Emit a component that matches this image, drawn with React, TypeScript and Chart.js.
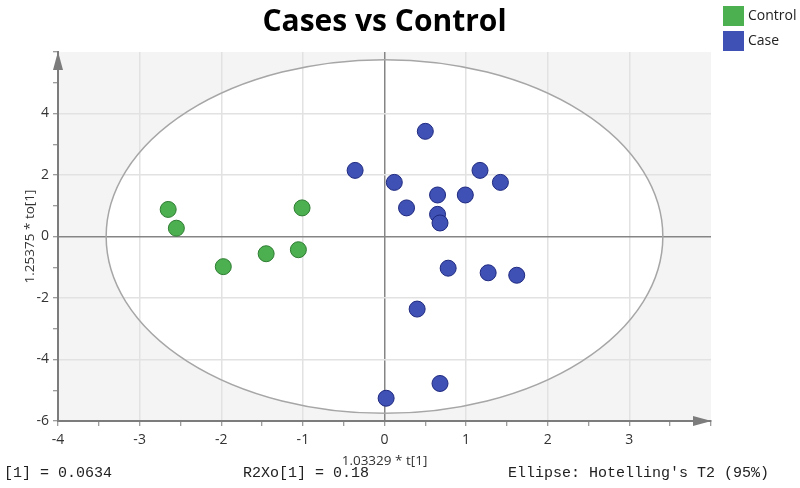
import React, { useEffect, useRef } from 'react';
import { Chart, registerables } from 'chart.js';

Chart.register(...registerables);

const TITLE = 'Cases vs Control';
const SERIES_NAMES = ['Control', 'Case'];
const SERIES_COLORS = ['#4caf50', '#3f51b5'];
const SERIES_BORDERS = ['#2f7d33', '#1f2a80'];

const CONTROL_X = [-2.65, -2.55, -1.01, -1.975, -1.45, -1.055];
const CONTROL_Y = [0.88, 0.27, 0.93, -0.98, -0.56, -0.43];

const CASE_X = [-0.36, 0.5, 0.12, 0.27, 0.65, 0.65, 0.68, 0.78, 0.99, 1.17, 1.42, 1.27, 1.62, 0.4, 0.68, 0.02];
const CASE_Y = [2.15, 3.42, 1.76, 0.93, 1.35, 0.72, 0.44, -1.03, 1.35, 2.15, 1.76, -1.18, -1.26, -2.36, -4.78, -5.26];

const X_MIN = -4;
const X_MAX = 4;
const Y_MIN = -6;
const Y_MAX = 6;
const X_LABELS = [-4, -3, -2, -1, 0, 1, 2, 3];
const Y_LABELS = [-6, -4, -2, 0, 2, 4];
const Y_GRID = [-4, -2, 2, 4];
const X_GRID = [-3, -2, -1, 1, 2, 3];

const ELLIPSE_RX = 3.41;
const ELLIPSE_RY = 5.75;

const X_TITLE = '1.03329 * t[1]';
const Y_TITLE = '1.25375 * to[1]';
const FOOTER_TEXTS = ['[1] = 0.0634', 'R2Xo[1] = 0.18', "Ellipse: Hotelling's T2 (95%)"];
const FOOTER_X = [4, 243, 508];

const FONT = '"Open Sans", "Noto Sans", sans-serif';
const AXIS_GREY = '#7c7c7c';

const decorPlugin = {
  id: 'decor',
  beforeDraw(chart: any) {
    const { ctx, chartArea } = chart;
    const { left, top, right, bottom } = chartArea;
    const xs = chart.scales.x;
    const ys = chart.scales.y;
    ctx.save();
    ctx.fillStyle = '#f4f4f4';
    ctx.fillRect(left, top, right - left, bottom - top);
    const cx = xs.getPixelForValue(0);
    const cy = ys.getPixelForValue(0);
    const rx = Math.abs(xs.getPixelForValue(ELLIPSE_RX) - cx);
    const ry = Math.abs(ys.getPixelForValue(ELLIPSE_RY) - cy);
    ctx.beginPath();
    ctx.ellipse(cx, cy, rx, ry, 0, 0, Math.PI * 2);
    ctx.fillStyle = '#ffffff';
    ctx.fill();
    ctx.restore();
  },
  beforeDatasetsDraw(chart: any) {
    const { ctx } = chart;
    const xs = chart.scales.x;
    const ys = chart.scales.y;
    const cx = xs.getPixelForValue(0);
    const cy = ys.getPixelForValue(0);
    const rx = Math.abs(xs.getPixelForValue(ELLIPSE_RX) - cx);
    const ry = Math.abs(ys.getPixelForValue(ELLIPSE_RY) - cy);
    ctx.save();
    ctx.beginPath();
    ctx.ellipse(cx, cy, rx, ry, 0, 0, Math.PI * 2);
    ctx.strokeStyle = '#a6a6a6';
    ctx.lineWidth = 1.5;
    ctx.stroke();
    ctx.restore();
  },
  afterDraw(chart: any) {
    const { ctx, chartArea } = chart;
    const { left, top, right, bottom } = chartArea;
    ctx.save();
    // axis arrows
    ctx.fillStyle = AXIS_GREY;
    ctx.beginPath();
    ctx.moveTo(left, top - 0.5);
    ctx.lineTo(left - 5, top + 18);
    ctx.lineTo(left + 5, top + 18);
    ctx.closePath();
    ctx.fill();
    ctx.beginPath();
    ctx.moveTo(right + 0.5, bottom);
    ctx.lineTo(right - 18, bottom - 5);
    ctx.lineTo(right - 18, bottom + 5);
    ctx.closePath();
    ctx.fill();

    // title
    ctx.fillStyle = '#000';
    ctx.font = `bold 30px ${FONT}`;
    ctx.textAlign = 'center';
    ctx.textBaseline = 'middle';
    ctx.fillText(TITLE, (left + right) / 2, 22);

    // legend
    ctx.textAlign = 'left';
    ctx.font = `14px ${FONT}`;
    SERIES_NAMES.forEach((name, i) => {
      const y0 = 6 + i * 25;
      ctx.fillStyle = SERIES_COLORS[i];
      ctx.fillRect(723, y0, 21, 20);
      ctx.fillStyle = '#222';
      ctx.fillText(name, 748, y0 + 10.5);
    });

    // footer
    ctx.font = '15px "Liberation Mono", "DejaVu Sans Mono", monospace';
    ctx.fillStyle = '#222';
    FOOTER_TEXTS.forEach((t, i) => {
      ctx.fillText(t, FOOTER_X[i], 473);
    });
    ctx.restore();
  },
};

export default function App() {
  const canvasRef = useRef<HTMLCanvasElement | null>(null);

  useEffect(() => {
    const canvas = canvasRef.current;
    if (!canvas) return;
    const chart = new Chart(canvas, {
      type: 'scatter',
      data: {
        datasets: [
          {
            label: SERIES_NAMES[0],
            data: CONTROL_X.map((x, i) => ({ x, y: CONTROL_Y[i] })),
            backgroundColor: SERIES_COLORS[0],
            borderColor: SERIES_BORDERS[0],
            borderWidth: 1,
            pointRadius: 8,
          },
          {
            label: SERIES_NAMES[1],
            data: CASE_X.map((x, i) => ({ x, y: CASE_Y[i] })),
            backgroundColor: SERIES_COLORS[1],
            borderColor: SERIES_BORDERS[1],
            borderWidth: 1,
            pointRadius: 8,
          },
        ],
      },
      options: {
        responsive: false,
        animation: false,
        layout: { padding: { top: 52, right: 89, bottom: 0, left: 0 } },
        plugins: {
          legend: { display: false },
          title: { display: false },
          tooltip: { enabled: false },
        },
        scales: {
          x: {
            type: 'linear',
            min: X_MIN,
            max: X_MAX,
            afterFit(scale: any) {
              scale.height = 67;
              scale.paddingLeft = 0;
              scale.paddingRight = 0;
            },
            ticks: {
              stepSize: 0.5,
              autoSkip: false,
              maxRotation: 0,
              padding: 6,
              color: '#333',
              font: { family: FONT, size: 14 },
              callback: (v: any) => (X_LABELS.includes(Number(v)) ? String(v) : ''),
            },
            grid: {
              tickLength: 5,
              tickWidth: 1,
              tickColor: AXIS_GREY,
              lineWidth: 1.5,
              color: (c: any) => {
                const v = c.tick ? c.tick.value : NaN;
                if (v === 0) return '#858585';
                if (X_GRID.includes(v)) return '#e2e2e2';
                return 'rgba(0,0,0,0)';
              },
            },
            border: { color: AXIS_GREY, width: 2 },
            title: {
              display: true,
              text: X_TITLE,
              color: '#333',
              font: { family: FONT, size: 13.5 },
              padding: { top: 0, bottom: 19 },
            },
          },
          y: {
            type: 'linear',
            min: Y_MIN,
            max: Y_MAX,
            afterFit(scale: any) {
              scale.width = 58;
              scale.paddingTop = 0;
              scale.paddingBottom = 0;
            },
            ticks: {
              stepSize: 1,
              autoSkip: false,
              padding: 4,
              color: '#333',
              font: { family: FONT, size: 14 },
              callback: (v: any) => (Y_LABELS.includes(Number(v)) ? String(v) : ''),
            },
            grid: {
              tickLength: 5,
              tickWidth: 1,
              tickColor: AXIS_GREY,
              lineWidth: 1.5,
              color: (c: any) => {
                const v = c.tick ? c.tick.value : NaN;
                if (v === 0) return '#858585';
                if (Y_GRID.includes(v)) return '#e2e2e2';
                return 'rgba(0,0,0,0)';
              },
            },
            border: { color: AXIS_GREY, width: 2 },
            title: {
              display: true,
              text: Y_TITLE,
              color: '#333',
              font: { family: FONT, size: 13.5 },
              padding: { top: 22, bottom: 0 },
            },
          },
        },
      },
      plugins: [decorPlugin],
    } as any);
    return () => chart.destroy();
  }, []);

  return (
    <div style={{ position: 'fixed', left: 0, top: 0, width: 800, height: 488, background: '#fff' }}>
      <canvas ref={canvasRef} width={800} height={488} style={{ display: 'block' }} />
    </div>
  );
}
